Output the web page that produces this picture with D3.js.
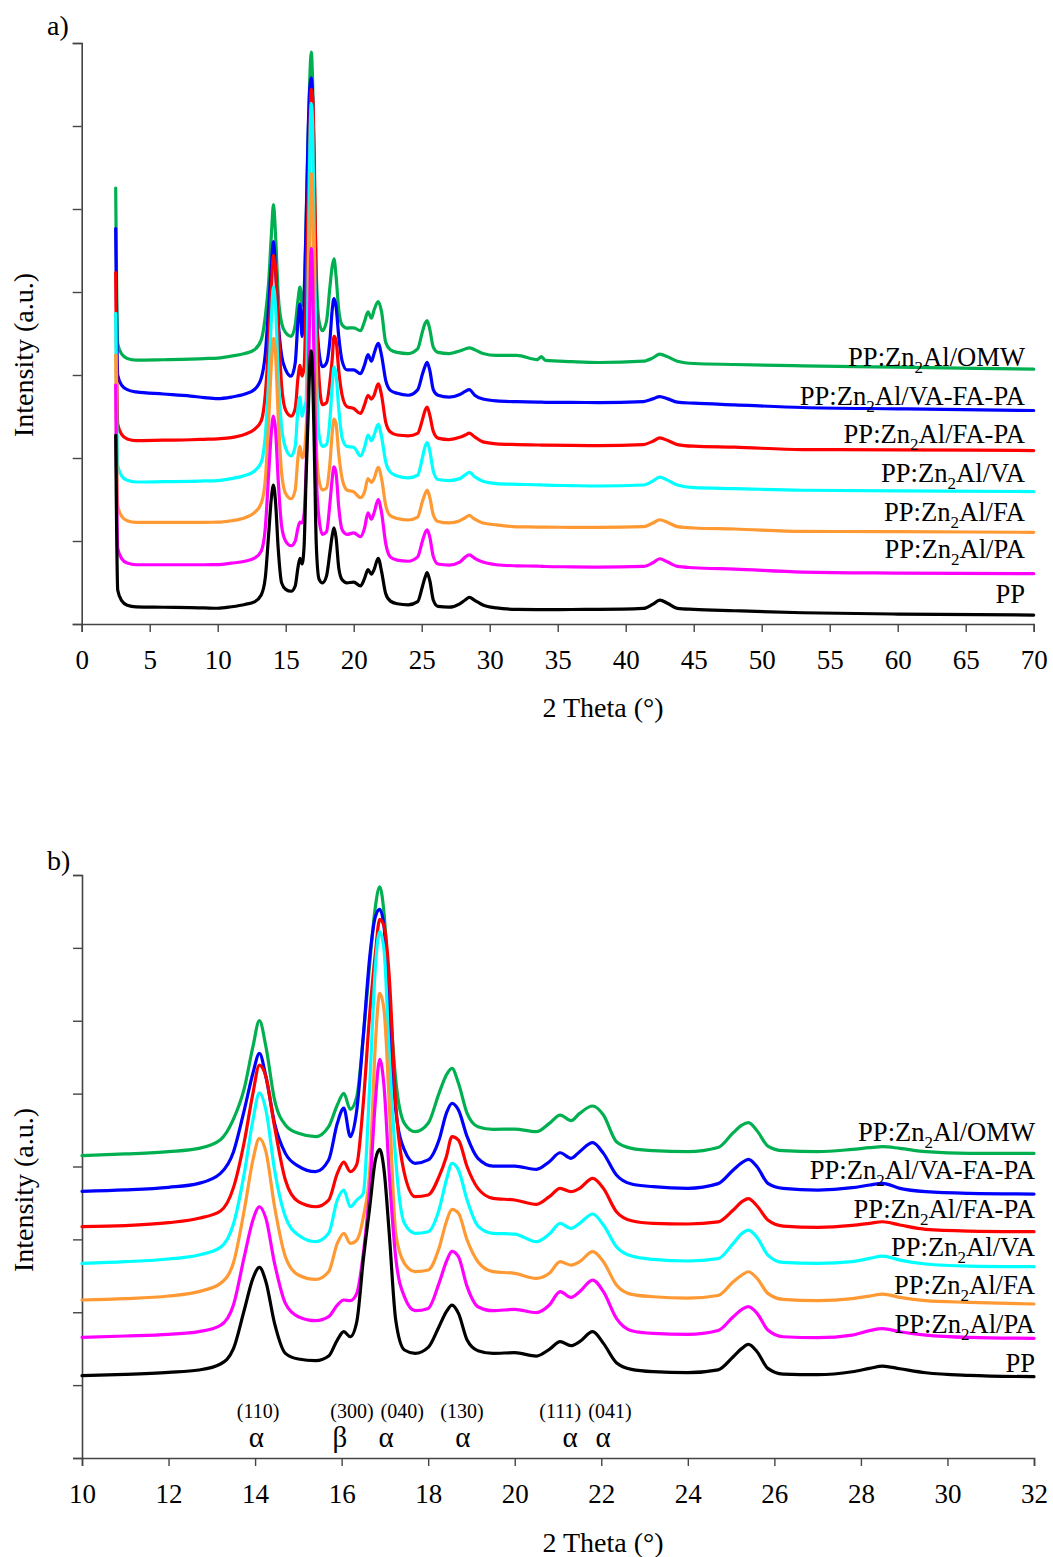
<!DOCTYPE html>
<html><head><meta charset="utf-8">
<script src="https://cdn.jsdelivr.net/npm/d3@7"></script>
<style>
body{margin:0;background:#fff}
svg{display:block}
text{font-family:"Liberation Serif","Times New Roman",serif;fill:#000}
</style>
</head><body>
<svg id="chart" width="1053" height="1557"></svg>
<script>
// ---------------- DATA ----------------
const twoTheta = [2.5, 2.65, 2.95, 3.35, 4, 6, 8, 9,
 10, 11, 12, 12.7, 13.2, 13.5, 13.75, 13.95, 14.1, 14.25,
 14.45, 14.7, 15.0, 15.4, 15.7, 15.9, 16.05, 16.2, 16.35, 16.5,
 16.65, 16.78, 16.88, 16.98, 17.1, 17.25, 17.45, 17.7, 18.0, 18.25,
 18.42, 18.55, 18.7, 18.9, 19.15, 19.5, 20.0, 20.5, 20.8, 21.05,
 21.3, 21.5, 21.8, 22.05, 22.35, 22.7, 23.2, 24.0, 24.7, 25.05,
 25.25, 25.4, 25.6, 25.85, 26.2, 27.0, 27.8, 28.2, 28.5, 28.9,
 29.5, 30.5, 32,
 33.5, 33.8, 34.1, 36, 38, 41.3, 42.0, 42.5, 43.1, 43.8, 45, 48, 53, 60, 70];

const PP = [2216, 347, 219, 167, 147, 142, 137, 134,
 130, 148, 176, 208, 290, 500, 1031, 1465, 1616, 1419,
 848, 436, 358, 335, 399, 619, 733, 664, 870, 1717,
 2448, 3089, 3235, 2952, 2083, 893, 482, 436, 518, 802,
 1008, 1099, 985, 619, 473, 436, 445, 399, 491, 596,
 541, 596, 733, 573, 308, 216, 184, 171, 210, 390,
 504, 559, 459, 230, 152, 143, 184, 230, 262, 225,
 170, 134, 116,
 114, 114, 113, 115, 116, 128, 180, 228, 188, 128, 116, 100, 76, 60, 48];

const PA = [2823, 854, 727, 675, 655, 655, 655, 655,
 656, 674, 697, 734, 820, 1100, 1762, 2266, 2448, 2288,
 1671, 1122, 939, 884, 939, 1099, 1168, 1159, 1259, 1800,
 2700, 3900, 4470, 4100, 2900, 1750, 1214, 1021, 1053, 1396,
 1694, 1836, 1762, 1351, 1076, 1021, 1040, 994, 1099, 1282,
 1204, 1282, 1442, 1282, 916, 747, 710, 697, 750, 939,
 1040, 1076, 985, 756, 664, 651, 687, 747, 774, 733,
 687, 655, 642,
 638, 636, 634, 630, 627, 635, 679, 727, 687, 635, 619, 603, 567, 555, 547];

const FA = [3183, 1364, 1237, 1185, 1165, 1167, 1167, 1167,
 1168, 1186, 1223, 1283, 1396, 1680, 2403, 3089, 3386, 3203,
 2448, 1762, 1511, 1451, 1557, 1945, 2083, 1945, 1991, 2300,
 2952, 4690, 5377, 5148, 3867, 2083, 1671, 1557, 1579, 1877,
 2243, 2412, 2357, 1991, 1694, 1557, 1534, 1465, 1534, 1694,
 1648, 1694, 1831, 1694, 1374, 1245, 1213, 1195, 1230, 1419,
 1511, 1556, 1465, 1259, 1177, 1159, 1186, 1222, 1250, 1204,
 1159, 1136, 1113,
 1110, 1109, 1108, 1107, 1106, 1114, 1158, 1198, 1166, 1114, 1098, 1086, 1058, 1054, 1046];

const VA = [3689, 1852, 1725, 1673, 1653, 1657, 1662, 1666,
 1671, 1694, 1731, 1786, 1890, 2210, 2906, 3638, 4010, 3775,
 2952, 2311, 2060, 1968, 2083, 2540, 2677, 2448, 2540, 2631,
 4142, 5743, 6223, 5971, 4553, 3090, 2220, 2083, 2105, 2403,
 2814, 3043, 2952, 2540, 2183, 2083, 2073, 1968, 2073, 2220,
 2151, 2220, 2348, 2197, 1900, 1771, 1726, 1703, 1735, 1945,
 2082, 2128, 2027, 1785, 1684, 1671, 1694, 1739, 1771, 1716,
 1662, 1634, 1625,
 1620, 1618, 1616, 1610, 1605, 1617, 1665, 1713, 1673, 1617, 1585, 1574, 1554, 1546, 1538];

const FAPA = [4181, 2351, 2224, 2172, 2152, 2158, 2163, 2168,
 2174, 2188, 2229, 2289, 2390, 2710, 3340, 4004, 4392, 4232,
 3546, 2814, 2517, 2448, 2540, 2906, 3060, 2930, 3030, 3867,
 5102, 5926, 6392, 6300, 5605, 3867, 2907, 2587, 2609, 2861,
 3135, 3410, 3363, 2997, 2700, 2563, 2540, 2480, 2586, 2700,
 2654, 2700, 2837, 2700, 2380, 2256, 2220, 2211, 2240, 2403,
 2517, 2558, 2458, 2265, 2183, 2165, 2192, 2220, 2242, 2197,
 2137, 2114, 2105,
 2100, 2099, 2098, 2095, 2093, 2105, 2145, 2185, 2153, 2105, 2085, 2073, 2045, 2041, 2033];

const VAFAPA = [4711, 2939, 2818, 2768, 2740, 2715, 2690, 2672,
 2660, 2678, 2714, 2769, 2906, 3200, 3775, 4279, 4553, 4233,
 3592, 3180, 3006, 2929, 3089, 3592, 3800, 3410, 3776, 4782,
 5880, 6429, 6529, 6291, 5011, 3776, 3227, 3044, 3090, 3364,
 3730, 3867, 3775, 3409, 3112, 3006, 3006, 2961, 3066, 3189,
 3112, 3203, 3327, 3180, 2883, 2759, 2723, 2700, 2765, 2952,
 3052, 3098, 2997, 2769, 2700, 2677, 2709, 2746, 2769, 2700,
 2654, 2631, 2622,
 2618, 2616, 2615, 2613, 2612, 2624, 2656, 2684, 2656, 2616, 2604, 2584, 2552, 2536, 2516];

const OMW = [5199, 3322, 3195, 3143, 3123, 3128, 3135, 3142,
 3149, 3172, 3204, 3249, 3368, 3650, 4072, 4645, 5001, 4645,
 3913, 3570, 3455, 3410, 3547, 3844, 4004, 3785, 3958, 4782,
 5788, 6566, 6839, 6474, 5376, 4187, 3593, 3478, 3593, 4004,
 4256, 4347, 4142, 3730, 3547, 3510, 3514, 3478, 3592, 3706,
 3629, 3729, 3830, 3706, 3340, 3249, 3217, 3203, 3260, 3464,
 3569, 3601, 3491, 3281, 3217, 3203, 3235, 3258, 3272, 3249,
 3203, 3180, 3180,
 3130, 3165, 3120, 3105, 3095, 3111, 3151, 3195, 3163, 3111, 3083, 3071, 3055, 3039, 3015];

const seriesNames = ["PP:Zn2Al/OMW", "PP:Zn2Al/VA-FA-PA", "PP:Zn2Al/FA-PA", "PP:Zn2Al/VA", "PP:Zn2Al/FA", "PP:Zn2Al/PA", "PP"];
const seriesValues = [OMW, VAFAPA, FAPA, VA, FA, PA, PP];

const xTicksA = [0, 5, 10, 15, 20, 25, 30, 35, 40, 45, 50, 55, 60, 65, 70];
const xTicksB = [10, 12, 14, 16, 18, 20, 22, 24, 26, 28, 30, 32];

const hklLabels = ["(110)", "(300)", "(040)", "(130)", "(111)", "(041)"];
const hklPos    = [14.07, 16.24, 17.4, 18.78, 21.05, 22.2];
const phaseLabels = ["α", "β", "α", "α", "α", "α"];
const phasePos    = [14.03, 15.96, 17.03, 18.8, 21.28, 22.04];

// ---------------- STYLE / LAYOUT ----------------
const colors = ["#00B050", "#0000FF", "#FF0000", "#00FFFF", "#FF9933", "#FF00FF", "#000000"];
const AXIS = "#444";
const svg = d3.select("#chart");
svg.append("rect").attr("width",1053).attr("height",1557).attr("fill","#fff");

const panels = [
  {tag:"a)", xDomain:[0,70], xRange:[81.7,1033.7], yDomain:[-60,6950], yRange:[624,43], nY:7,
   xTicks:xTicksA, labelRight:1025, labelBase:[366,404.5,443,482,520.5,558,602.5],
   tagY:35, xTitleY:717, yTitleY:355},
  {tag:"b)", xDomain:[10,32], xRange:[82,1034], yDomain:[-1000,7000], yRange:[1458,875], nY:8,
   xTicks:xTicksB, labelRight:1035, labelBase:[1141,1179,1218,1256,1294,1333,1372],
   tagY:870, xTitleY:1552, yTitleY:1190}
];

function addLabel(g, txt, x, y) {
  const t = g.append("text").attr("x", x).attr("y", y).attr("text-anchor","end")
    .attr("font-size", 26.6);
  const i = txt.indexOf("Zn2");
  if (i < 0) { t.text(txt); return; }
  t.append("tspan").text(txt.slice(0, i+2));
  t.append("tspan").attr("font-size",17).attr("dy",7).text("2");
  t.append("tspan").attr("dy",-7).text(txt.slice(i+3));
}

panels.forEach((p, pi) => {
  const x = d3.scaleLinear().domain(p.xDomain).range(p.xRange);
  const y = d3.scaleLinear().domain(p.yDomain).range(p.yRange);
  const g = svg.append("g");

  // y axis
  const yTickVals = d3.range(p.nY+1).map(i => p.yDomain[0] + i*(p.yDomain[1]-p.yDomain[0])/p.nY);
  const ya = g.append("g").attr("transform",`translate(${p.xRange[0]},0)`)
    .call(d3.axisLeft(y).tickValues(yTickVals).tickSize(9).tickFormat(""));
  ya.select(".domain").attr("stroke",AXIS).attr("stroke-width",1.6);
  ya.selectAll(".tick line").attr("stroke",AXIS).attr("stroke-width",1.4);

  // x axis
  const xa = g.append("g").attr("transform",`translate(0,${p.yRange[0]})`)
    .call(d3.axisBottom(x).tickValues(p.xTicks).tickSize(8).tickFormat(d3.format("d")));
  xa.select(".domain").attr("stroke",AXIS).attr("stroke-width",1.6);
  xa.selectAll(".tick line").attr("stroke",AXIS).attr("stroke-width",1.4);
  xa.selectAll("text").attr("y",45).attr("dy",0).attr("font-size",27)
    .attr("font-family",'"Liberation Serif", serif').attr("fill","#000");

  // curves
  const line = d3.line().x(d => x(d[0])).y(d => y(d[1])).curve(d3.curveMonotoneX);
  seriesValues.forEach((vals, si) => {
    const pts = twoTheta.map((t,k) => [t, vals[k]])
      .filter(d => d[0] >= p.xDomain[0] && d[0] <= p.xDomain[1]);
    g.append("path").attr("d", line(pts)).attr("fill","none")
      .attr("stroke", colors[si]).attr("stroke-width", 3.2)
      .attr("stroke-linejoin","round").attr("stroke-linecap","round");
  });

  // labels
  seriesNames.forEach((n, si) => addLabel(g, n, p.labelRight, p.labelBase[si]));

  // titles
  g.append("text").attr("x", 603).attr("y", p.xTitleY).attr("text-anchor","middle")
    .attr("font-size",28).text("2 Theta (°)");
  g.append("text").attr("transform",`translate(33,${p.yTitleY}) rotate(-90)`)
    .attr("text-anchor","middle").attr("font-size",28).text("Intensity (a.u.)");
  g.append("text").attr("x",47).attr("y",p.tagY).attr("font-size",28).text(p.tag);

  if (pi === 1) {
    hklLabels.forEach((l,k) => g.append("text").attr("x", x(hklPos[k])).attr("y", 1418)
      .attr("text-anchor","middle").attr("font-size",20).text(l));
    phaseLabels.forEach((l,k) => g.append("text").attr("x", x(phasePos[k])).attr("y", 1447)
      .attr("text-anchor","middle").attr("font-size",29).text(l));
  }
});
</script>
</body></html>
